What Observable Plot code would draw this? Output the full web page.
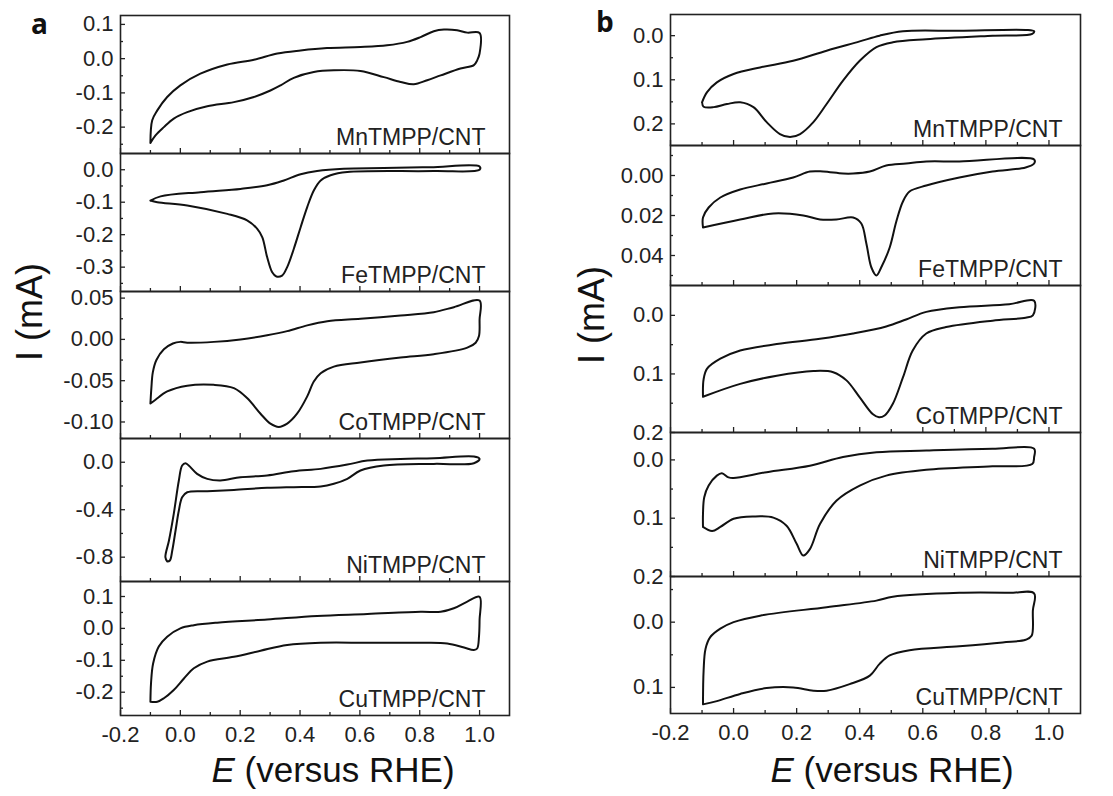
<!DOCTYPE html>
<html><head><meta charset="utf-8">
<script src="https://cdn.jsdelivr.net/npm/d3@7"></script>
<script src="https://cdn.jsdelivr.net/npm/@observablehq/plot@0.6"></script>
<style>
body{margin:0;background:#fff;}
#fig{position:relative;width:1113px;height:796px;font-family:"Liberation Sans",Arial,sans-serif;color:#222;overflow:hidden;}
.pl{position:absolute;}
.t{position:absolute;line-height:1;white-space:nowrap;color:#111;}
svg text{font-family:"Liberation Sans",Arial,sans-serif;}
</style></head><body><div id="fig"></div>
<script>
// ---------- DATA ----------
const catalysts = ["MnTMPP/CNT","FeTMPP/CNT","CoTMPP/CNT","NiTMPP/CNT","CuTMPP/CNT"];
const xMajor = [-0.2,0.0,0.2,0.4,0.6,0.8,1.0];
const xMinor = [-0.1,0.1,0.3,0.5,0.7,0.9];

// panel a
const mnA_E = [-0.1,-0.094,-0.077,-0.044,0.0,0.067,0.157,0.246,0.324,0.402,0.49,0.602,0.691,0.758,0.803,0.847,0.881,0.925,0.959,1.0,1.0,0.992,0.981,0.936,0.87,0.825,0.78,0.736,0.68,0.602,0.513,0.446,0.379,0.335,0.301,0.246,0.179,0.09,0.023,-0.022,-0.055,-0.083,-0.1];
const mnA_I = [-0.246,-0.18,-0.151,-0.112,-0.078,-0.044,-0.017,-0.003,0.015,0.024,0.031,0.034,0.039,0.049,0.063,0.08,0.085,0.083,0.076,0.075,0.015,-0.005,-0.019,-0.029,-0.049,-0.063,-0.075,-0.068,-0.054,-0.036,-0.034,-0.039,-0.056,-0.078,-0.093,-0.112,-0.127,-0.139,-0.156,-0.175,-0.2,-0.224,-0.246];
const feA_E = [-0.1,-0.066,0.067,0.201,0.29,0.346,0.402,0.457,0.546,0.68,0.836,1.0,1.0,0.847,0.558,0.502,0.469,0.446,0.424,0.402,0.379,0.357,0.34,0.321,0.307,0.29,0.274,0.257,0.223,0.157,0.023,-0.077,-0.1];
const feA_I = [-0.095,-0.082,-0.069,-0.059,-0.048,-0.033,-0.014,-0.004,0.003,0.005,0.008,0.01,0.0,-0.004,-0.007,-0.017,-0.033,-0.064,-0.115,-0.177,-0.244,-0.3,-0.326,-0.329,-0.316,-0.269,-0.208,-0.182,-0.156,-0.136,-0.11,-0.1,-0.095];
const coA_E = [-0.1,-0.097,-0.092,-0.08,-0.055,-0.025,0.0,0.023,0.112,0.201,0.29,0.357,0.424,0.491,0.602,0.736,0.847,0.914,1.0,1.0,0.998,0.987,0.959,0.847,0.736,0.602,0.513,0.469,0.446,0.424,0.39,0.357,0.329,0.301,0.268,0.223,0.179,0.112,0.023,-0.044,-0.083,-0.1];
const coA_I = [-0.0776,-0.06,-0.04,-0.025,-0.012,-0.005,-0.003,-0.004,-0.003,0.0,0.005,0.01,0.017,0.022,0.025,0.029,0.033,0.039,0.047,0.024,0.004,-0.004,-0.01,-0.018,-0.022,-0.028,-0.033,-0.041,-0.051,-0.069,-0.09,-0.102,-0.106,-0.102,-0.09,-0.071,-0.059,-0.055,-0.056,-0.063,-0.073,-0.0776];
const niA_E = [-0.044,-0.05,-0.038,-0.022,-0.005,0.006,0.017,0.028,0.056,0.09,0.134,0.201,0.29,0.379,0.469,0.558,0.625,0.736,0.847,0.981,1.0,0.981,0.847,0.68,0.602,0.558,0.513,0.469,0.379,0.29,0.179,0.09,0.023,0.006,-0.005,-0.016,-0.027,-0.035,-0.044];
const niA_I = [-0.836,-0.8,-0.66,-0.435,-0.154,-0.028,-0.008,-0.028,-0.098,-0.14,-0.154,-0.126,-0.112,-0.076,-0.056,-0.02,0.014,0.028,0.034,0.048,0.028,-0.008,-0.014,-0.028,-0.07,-0.14,-0.182,-0.205,-0.21,-0.216,-0.233,-0.244,-0.253,-0.295,-0.407,-0.575,-0.744,-0.828,-0.836];
const cuA_E = [-0.1,-0.077,-0.055,-0.022,0.012,0.045,0.09,0.179,0.268,0.357,0.469,0.625,0.792,0.892,0.948,0.981,0.992,0.998,1.0,1.0,0.959,0.914,0.87,0.803,0.625,0.457,0.29,0.123,0.045,0.0,-0.044,-0.072,-0.091,-0.098,-0.1];
const cuA_I = [-0.23,-0.23,-0.219,-0.193,-0.157,-0.125,-0.104,-0.089,-0.07,-0.052,-0.045,-0.045,-0.045,-0.047,-0.06,-0.068,-0.063,-0.026,0.026,0.099,0.084,0.063,0.052,0.052,0.045,0.039,0.028,0.018,0.01,0.0,-0.026,-0.057,-0.11,-0.172,-0.23];

// panel b (axis values increase downward)
const mnB_E = [-0.1,-0.084,-0.053,0.0,0.084,0.189,0.295,0.4,0.463,0.537,0.716,0.926,0.953,0.947,0.821,0.611,0.505,0.453,0.4,0.347,0.295,0.253,0.211,0.179,0.147,0.105,0.063,0.021,-0.021,-0.063,-0.095,-0.1];
const mnB_I = [0.151,0.128,0.106,0.087,0.072,0.057,0.034,0.013,0.0,-0.01,-0.011,-0.013,-0.01,-0.004,0.0,0.008,0.015,0.026,0.057,0.102,0.155,0.196,0.223,0.23,0.223,0.196,0.162,0.151,0.155,0.162,0.161,0.151];
const feB_E = [-0.097,-0.097,-0.079,-0.042,0.021,0.105,0.189,0.242,0.284,0.347,0.379,0.432,0.484,0.547,0.611,0.716,0.953,0.953,0.926,0.821,0.716,0.611,0.558,0.537,0.516,0.495,0.468,0.453,0.437,0.421,0.405,0.379,0.326,0.274,0.221,0.126,0.021,-0.097];
const feB_I = [0.026,0.021,0.016,0.011,0.007,0.004,0.001,-0.002,-0.002,-0.001,-0.001,-0.002,-0.005,-0.006,-0.007,-0.007,-0.008,-0.006,-0.004,-0.002,0.001,0.005,0.008,0.013,0.023,0.036,0.046,0.05,0.046,0.034,0.024,0.021,0.022,0.022,0.02,0.019,0.022,0.026];
const coB_E = [-0.097,-0.095,-0.084,-0.042,0.021,0.137,0.274,0.379,0.484,0.547,0.611,0.716,0.874,0.953,0.949,0.926,0.821,0.674,0.611,0.568,0.537,0.505,0.479,0.461,0.442,0.4,0.358,0.316,0.253,0.137,0.021,-0.097];
const coB_I = [0.139,0.109,0.091,0.074,0.06,0.049,0.04,0.031,0.019,0.007,-0.006,-0.014,-0.019,-0.025,0.0,0.004,0.009,0.02,0.031,0.06,0.106,0.151,0.171,0.174,0.169,0.14,0.111,0.097,0.095,0.103,0.117,0.139];
const niB_E = [-0.097,-0.068,-0.042,0.0,0.063,0.126,0.168,0.2,0.221,0.242,0.274,0.326,0.4,0.484,0.611,0.821,0.947,0.953,0.953,0.821,0.611,0.453,0.347,0.242,0.105,0.0,-0.016,-0.037,-0.053,-0.079,-0.093,-0.097,-0.097];
const niB_I = [0.115,0.122,0.115,0.101,0.097,0.099,0.113,0.144,0.164,0.153,0.11,0.07,0.044,0.027,0.017,0.011,0.007,-0.005,-0.019,-0.019,-0.016,-0.013,-0.005,0.01,0.021,0.031,0.03,0.023,0.027,0.044,0.064,0.093,0.115];
const cuB_E = [-0.097,-0.053,0.021,0.105,0.189,0.253,0.295,0.368,0.432,0.463,0.495,0.558,0.716,0.853,0.926,0.945,0.949,0.953,0.874,0.716,0.505,0.453,0.295,0.084,0.0,-0.042,-0.074,-0.089,-0.095,-0.097];
const cuB_I = [0.126,0.121,0.11,0.101,0.1,0.105,0.105,0.095,0.082,0.064,0.051,0.043,0.037,0.031,0.027,0.021,-0.018,-0.044,-0.045,-0.045,-0.039,-0.033,-0.023,-0.01,0.0,0.01,0.023,0.041,0.074,0.126];

// y tick values (major / minor) and label decimals
const yTicksA = [[0.1,0.0,-0.1,-0.2],[0.0,-0.1,-0.2,-0.3],[0.05,0.0,-0.05,-0.10],[0.0,-0.4,-0.8],[0.1,0.0,-0.1,-0.2]];
const yMinorA = [[0.05,-0.05,-0.15,-0.25],[-0.05,-0.15,-0.25,-0.35],[0.025,-0.025,-0.075],[0.2,-0.2,-0.6],[0.05,-0.05,-0.15,-0.25]];
const yDecA = [1,1,2,1,1];
const yTicksB = [[0.0,0.1,0.2],[0.0,0.02,0.04],[0.0,0.1,0.2],[0.0,0.1,0.2],[0.0,0.1]];
const yMinorB = [[0.05,0.15],[-0.01,0.01,0.03,0.05],[0.05,0.15],[0.05,0.15],[-0.05,0.05]];
const yDecB = [1,2,1,1,1];
const yDomA = [[-0.277,0.126],[-0.375,0.05],[-0.12,0.058],[-1.005,0.2],[-0.273,0.147]];
const yDomB = [[-0.048,0.249],[-0.015,0.055],[-0.051,0.2],[-0.047,0.2],[-0.07,0.14]];

// ---------- LAYOUT ----------
const seriesA = [[mnA_E,mnA_I],[feA_E,feA_I],[coA_E,coA_I],[niA_E,niA_I],[cuA_E,cuA_I]];
const seriesB = [[mnB_E,mnB_I],[feB_E,feB_I],[coB_E,coB_I],[niB_E,niB_I],[cuB_E,cuB_I]];
const layoutA = {left:120, right:509, rows:[15,153,291,438,581,715], labelDx:-24};
const layoutB = {left:670, right:1080, rows:[14,145,285,432,576,713], labelDx:-18};
const FONT = "'Liberation Sans',Arial,sans-serif";

const fig = document.getElementById("fig");
const fmt = (n) => (d) => d.toFixed(n);

function makePanel(layout, series, yTicks, yMinor, yDec, yDom, reverse, i) {
  const isBottom = i === 4;
  const mt = 14, mb = isBottom ? 50 : 14, ml = 100, mr = 14;
  const top = layout.rows[i], bottom = layout.rows[i+1];
  const w = layout.right - layout.left, h = bottom - top;
  const [E, I] = series[i];
  const pts = E.map((e, k) => ({E: e, I: I[k]}));
  const svg = Plot.plot({
    width: w + ml + mr, height: h + mt + mb,
    marginLeft: ml, marginRight: mr, marginTop: mt, marginBottom: mb,
    style: `background:transparent;overflow:visible;font-family:${FONT};font-size:22px;color:#222;`,
    x: {domain: [-0.2, 1.1]},
    y: {domain: yDom[i], reverse},
    marks: [
      Plot.axisY(yTicks[i], {tickSize: -5, tickFormat: () => "", label: null, strokeWidth: 1.3}),
      Plot.axisY(yMinor[i], {tickSize: -3, tickFormat: () => "", label: null, strokeWidth: 1.3}),
      Plot.axisY(yTicks[i], {tickSize: 0, tickPadding: 7, tickFormat: fmt(yDec[i]), label: null, fontSize: 22, fontFamily: FONT, fill: "#222"}),
      Plot.axisX(xMajor, {tickSize: -5, tickFormat: () => "", label: null, strokeWidth: 1.3}),
      Plot.axisX(xMinor, {tickSize: -3, tickFormat: () => "", label: null, strokeWidth: 1.3}),
      isBottom ? Plot.axisX(xMajor, {tickSize: 0, tickPadding: 11, tickFormat: fmt(1), label: null, fontSize: 22, fontFamily: FONT, fill: "#222"}) : null,
      Plot.line(pts, {x: "E", y: "I", curve: "catmull-rom", stroke: "#111", strokeWidth: 2}),
      Plot.text([catalysts[i]], {frameAnchor: "bottom-right", dx: layout.labelDx, dy: -9, textAnchor: "end", lineAnchor: "bottom", fontSize: 23, fontFamily: FONT, fill: "#222"}),
      Plot.frame({stroke: "#222", strokeWidth: 1.6})
    ]
  });
  const div = document.createElement("div");
  div.className = "pl";
  div.style.left = (layout.left - ml) + "px";
  div.style.top = (top - mt) + "px";
  div.appendChild(svg);
  fig.appendChild(div);
}
for (let i = 0; i < 5; i++) makePanel(layoutA, seriesA, yTicksA, yMinorA, yDecA, yDomA, false, i);
for (let i = 0; i < 5; i++) makePanel(layoutB, seriesB, yTicksB, yMinorB, yDecB, yDomB, true, i);

function addText(txt, css, html) {
  const d = document.createElement("div");
  d.className = "t";
  if (html) d.innerHTML = txt; else d.textContent = txt;
  Object.assign(d.style, css);
  fig.appendChild(d);
}
addText("a", {left: "31px", top: "9px", fontSize: "28px", fontWeight: "bold", fontFamily: "'Open Sans',Arial,sans-serif"});
addText("b", {left: "596px", top: "7px", fontSize: "28px", fontWeight: "bold", fontFamily: "'Open Sans',Arial,sans-serif"});
addText("I (mA)", {left: "30px", top: "312px", fontSize: "36px", fontFamily: FONT, transform: "translate(-50%,-50%) rotate(-90deg)"});
addText("I (mA)", {left: "592px", top: "315px", fontSize: "36px", fontFamily: FONT, transform: "translate(-50%,-50%) rotate(-90deg)"});
addText("<i>E</i> (versus RHE)", {left: "333px", top: "752px", fontSize: "35px", fontFamily: FONT, transform: "translateX(-50%)"}, true);
addText("<i>E</i> (versus RHE)", {left: "892px", top: "752px", fontSize: "35px", fontFamily: FONT, transform: "translateX(-50%)"}, true);
</script></body></html>
